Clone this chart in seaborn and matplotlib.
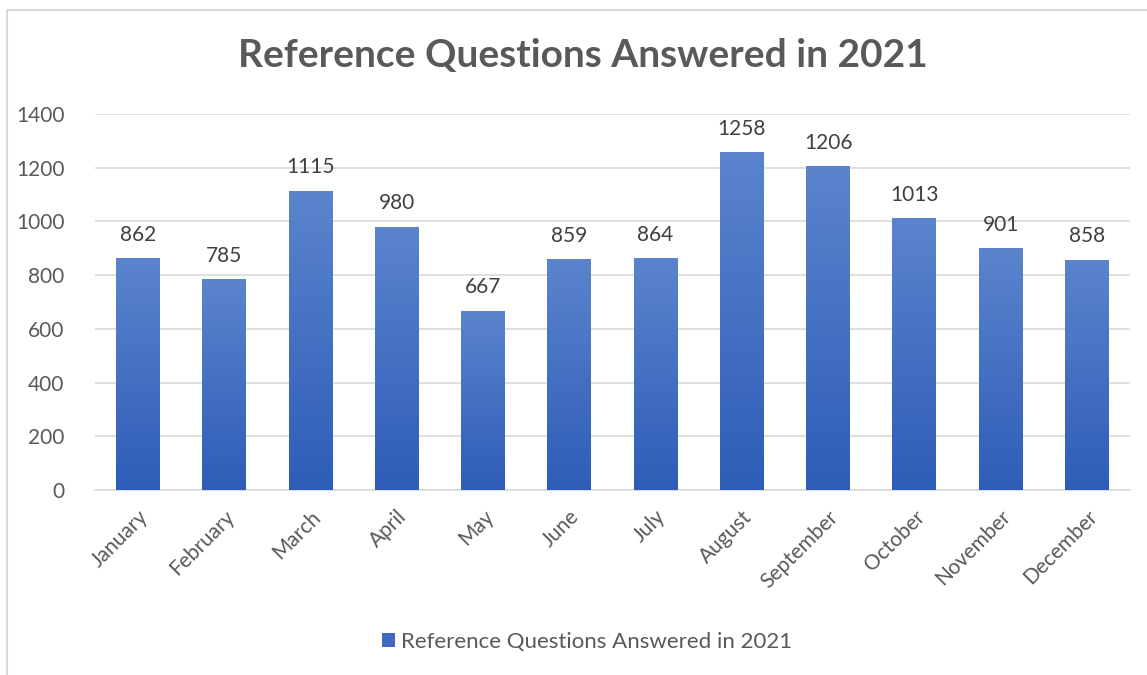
import numpy as np
import pandas as pd
import matplotlib
matplotlib.use("Agg")
import matplotlib.pyplot as plt
import matplotlib.patheffects as pe
import matplotlib.transforms as mtransforms
from matplotlib.colors import LinearSegmentedColormap
from matplotlib.lines import Line2D
import seaborn as sns

months = ["January", "February", "March", "April", "May", "June", "July",
          "August", "September", "October", "November", "December"]
answered = [862, 785, 1115, 980, 667, 859, 864, 1258, 1206, 1013, 901, 858]
series_name = "Reference Questions Answered in 2021"
yticks = [0, 200, 400, 600, 800, 1000, 1200, 1400]

df = pd.DataFrame({"Month": months, "Answered": answered})

sns.set_theme(style="white")
plt.rcParams["font.family"] = ["Lato", "DejaVu Sans"]

TXT = "#595959"
GRID = "#D9D9D9"
top_c = "#5B84CD"
bot_c = "#2E5DB8"

fig = plt.figure(figsize=(11.47, 6.75), dpi=100)
ax = fig.add_axes([95/1147, 1-490/675, (1130-95)/1147, (490-114)/675])

sns.barplot(data=df, x="Month", y="Answered", color=bot_c, width=0.51,
            saturation=1, ax=ax, zorder=3)

cmap = LinearSegmentedColormap.from_list("g", [bot_c, top_c])
grad = np.linspace(0, 1, 256).reshape(-1, 1)
for p in ax.patches:
    x0, y0 = p.get_x(), p.get_y()
    w, h = p.get_width(), p.get_height()
    p.set_path_effects([pe.SimplePatchShadow(offset=(0, -1), shadow_rgbFace="#000000", alpha=0.15),
                        pe.Normal()])
    p.set_edgecolor("none")
    im = ax.imshow(grad, cmap=cmap, aspect="auto", origin="lower",
                   extent=[x0, x0 + w, y0, y0 + h], zorder=4)
    im.set_clip_path(p)

for i, v in enumerate(answered):
    ax.text(i, v + 50, str(v), ha="center", va="bottom", fontsize=15, color="#404040", zorder=5)

ax.set_xlim(-0.5, 11.5)
ax.set_ylim(0, 1400)
ax.set_yticks(yticks)
ax.set_yticklabels([str(t) for t in yticks], fontsize=15, color=TXT)
ax.set_xticks(range(len(months)))
ax.set_xticklabels(months, rotation=45, ha="right", rotation_mode="anchor",
                   fontsize=15, color=TXT)
shift = mtransforms.ScaledTranslation(-4/100, 0, fig.dpi_scale_trans)
for lab in ax.get_xticklabels():
    lab.set_transform(lab.get_transform() + shift)
ax.tick_params(axis="both", length=0)
ax.tick_params(axis="y", pad=22)
ax.tick_params(axis="x", pad=12)
ax.set_xlabel("")
ax.set_ylabel("")
ax.grid(axis="y", color=GRID, linewidth=1.2, zorder=0)
ax.set_axisbelow(True)
for s in ["top", "right", "left"]:
    ax.spines[s].set_visible(False)
ax.spines["bottom"].set_color(GRID)
ax.spines["bottom"].set_linewidth(1.2)

fig.text(583/1147, 1-55/675, series_name, ha="center", va="center",
         fontsize=28, fontweight="bold", color=TXT)

handle = plt.Rectangle((0, 0), 1, 1, facecolor="#3F6AC4", edgecolor="none")
fig.legend([handle], [series_name], loc="center", bbox_to_anchor=(587/1147, 1-642/675),
           frameon=False, fontsize=16, labelcolor=TXT, handlelength=0.6, handleheight=0.6,
           handletextpad=0.25)

fig.add_artist(Line2D([7/1147, 1], [1-10/675, 1-10/675], color=GRID, linewidth=1.5))
fig.add_artist(Line2D([7/1147, 7/1147], [0, 1-10/675], color=GRID, linewidth=1.5))

fig.savefig("out.png", dpi=100, facecolor="white")
